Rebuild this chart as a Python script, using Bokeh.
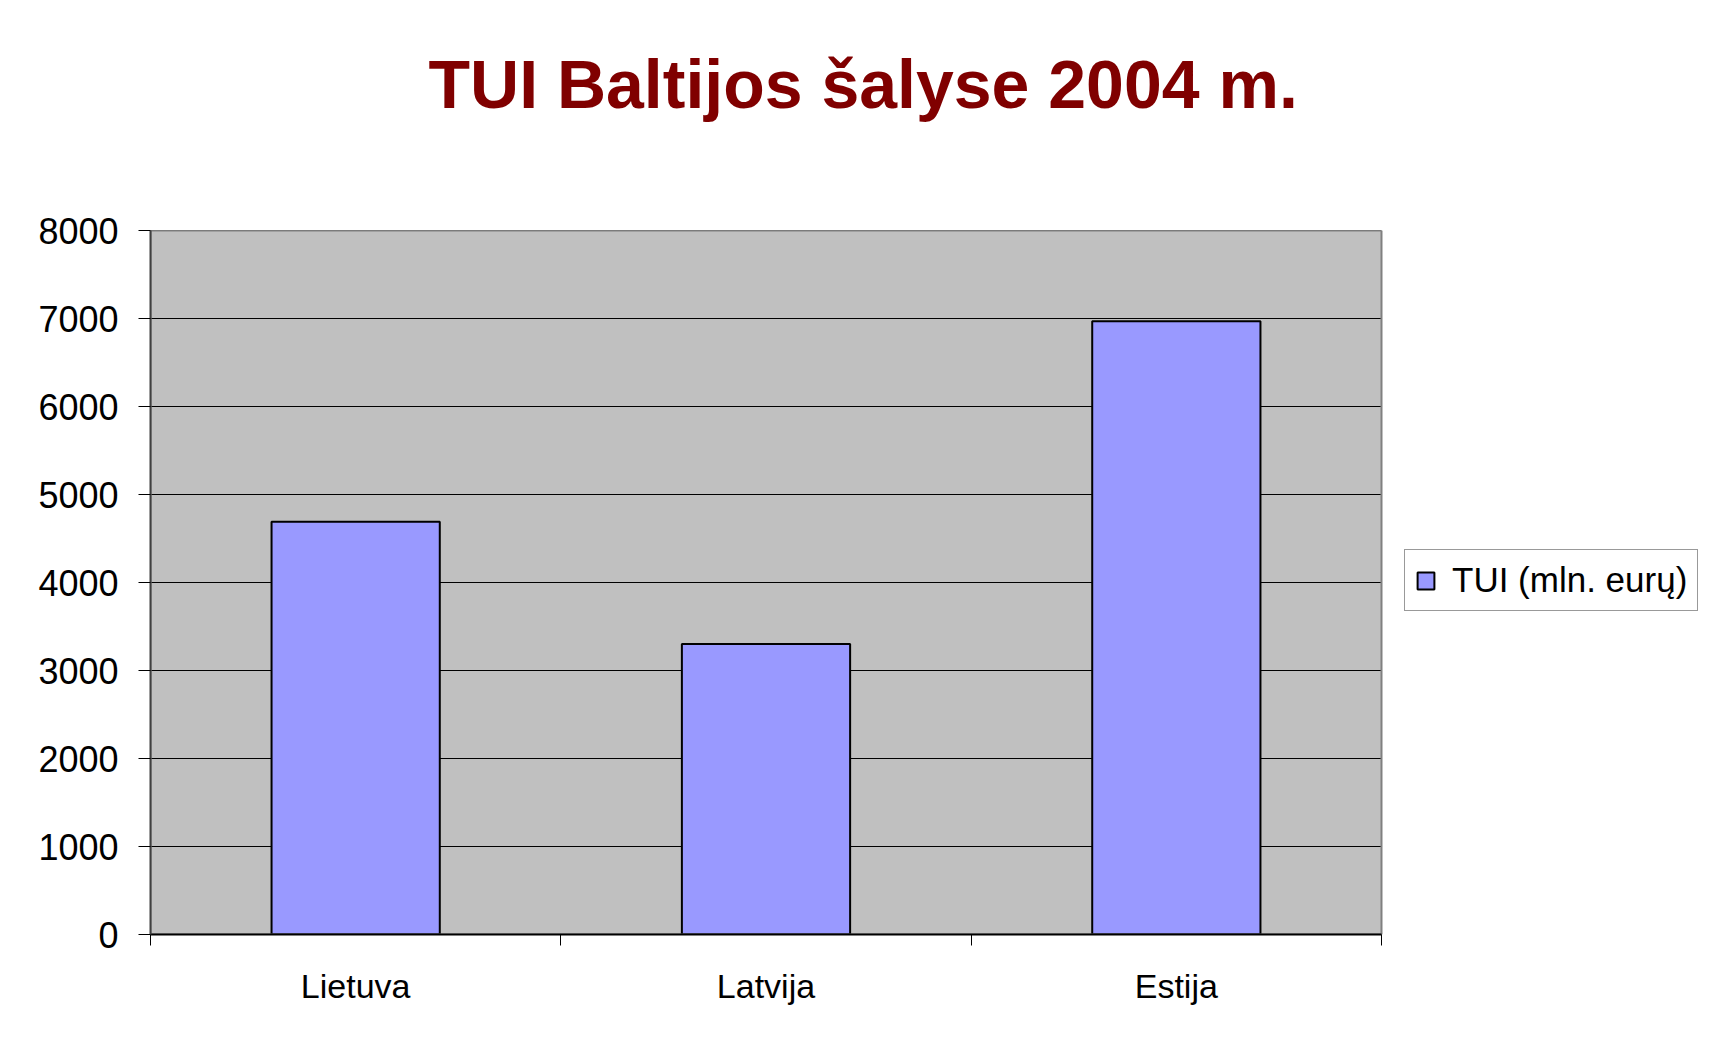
from bokeh.plotting import figure
from bokeh.models import FixedTicker, Legend, LegendItem, ColumnDataSource, Range1d, Title
from bokeh.embed import file_html
from bokeh.resources import INLINE

# ---- data ----
categories = ["Lietuva", "Latvija", "Estija"]
tui_values = [4690, 3300, 6970]
y_ticks = [0, 1000, 2000, 3000, 4000, 5000, 6000, 7000, 8000]
series_name = "TUI (mln. eurų)"
title_text = "TUI Baltijos šalyse 2004 m."

n = len(categories)
x_pos = [i + 0.5 for i in range(n)]
x_bounds = [i for i in range(n + 1)]
src = ColumnDataSource(dict(x=x_pos, top=tui_values, cat=categories))

FONT = "Liberation Sans"

# layout: frame spans the plot area plus the legend column on the right
W, H = 1703, 1034
LEFT, TOP, BOTTOM = 150, 230, 100
PLOT_W = 1231  # width of the grey plotting area in px
frame_w = W - LEFT
x_end = n * frame_w / PLOT_W

p = figure(width=W, height=H, output_backend="svg", toolbar_location=None, title=None,
           x_range=Range1d(0, x_end), y_range=Range1d(y_ticks[0], y_ticks[-1]),
           min_border_left=LEFT, min_border_right=0, min_border_top=TOP,
           min_border_bottom=BOTTOM)
p.background_fill_color = "white"
p.border_fill_color = "white"
p.outline_line_color = None
p.xgrid.visible = False
p.ygrid.visible = False

# grey plotting area
p.quad(left=[x_bounds[0]], right=[x_bounds[-1]], bottom=[y_ticks[0]], top=[y_ticks[-1]],
       fill_color="#C0C0C0", line_color=None)
# horizontal grid lines restricted to the plotting area
p.segment(x0=[x_bounds[0]] * len(y_ticks), x1=[x_bounds[-1]] * len(y_ticks),
          y0=y_ticks, y1=y_ticks, line_color="black", line_width=1)

r = p.vbar(x="x", top="top", bottom=0, width=0.41, source=src,
           fill_color="#9999FF", line_color="black", line_width=2)

# plot-area border (grey)
p.quad(left=[x_bounds[0]], right=[x_bounds[-1]], bottom=[y_ticks[0]], top=[y_ticks[-1]],
       fill_color=None, line_color="#808080", line_width=2)

# spacer between frame and title (nearest the frame), then the real title
p.add_layout(Title(text=" ", text_font_size="1px", standoff=106), "above")
p.add_layout(Title(text=title_text, text_font=FONT, text_font_size="68px",
                   text_font_style="bold", text_color="#800000",
                   align="left", offset=278, standoff=0), "above")

# y axis
ya = p.yaxis[0]
ya.ticker = FixedTicker(ticks=y_ticks)
ya.major_label_text_font = FONT
ya.major_label_text_font_size = "36px"
ya.major_label_text_color = "black"
ya.axis_line_color = "#404040"
ya.axis_line_width = 2
ya.major_tick_out = 12
ya.major_tick_in = 0
ya.minor_tick_out = 0
ya.minor_tick_in = 0
ya.major_tick_line_color = "black"
ya.major_label_standoff = 20

# x axis
xa = p.xaxis[0]
xa.bounds = (x_bounds[0], x_bounds[-1])
xa.ticker = FixedTicker(ticks=x_pos, minor_ticks=x_bounds)
xa.major_label_overrides = {x: c for x, c in zip(x_pos, categories)}
xa.major_label_text_font = FONT
xa.major_label_text_font_size = "34px"
xa.major_label_text_color = "black"
xa.major_tick_out = 0
xa.major_tick_in = 0
xa.minor_tick_out = 11
xa.minor_tick_in = 0
xa.minor_tick_line_color = "black"
xa.axis_line_color = "black"
xa.axis_line_width = 2
xa.major_label_standoff = 21

legend = Legend(items=[LegendItem(label=series_name, renderers=[r])],
                location=(1254, 323),
                label_text_font=FONT, label_text_font_size="35px",
                label_text_color="black",
                glyph_width=21, glyph_height=21, label_standoff=16,
                padding=10, spacing=0, margin=0,
                border_line_color="#333333", border_line_width=1,
                background_fill_color="white", background_fill_alpha=1)
p.add_layout(legend)

open("out.html", "w").write(file_html(p, INLINE))
